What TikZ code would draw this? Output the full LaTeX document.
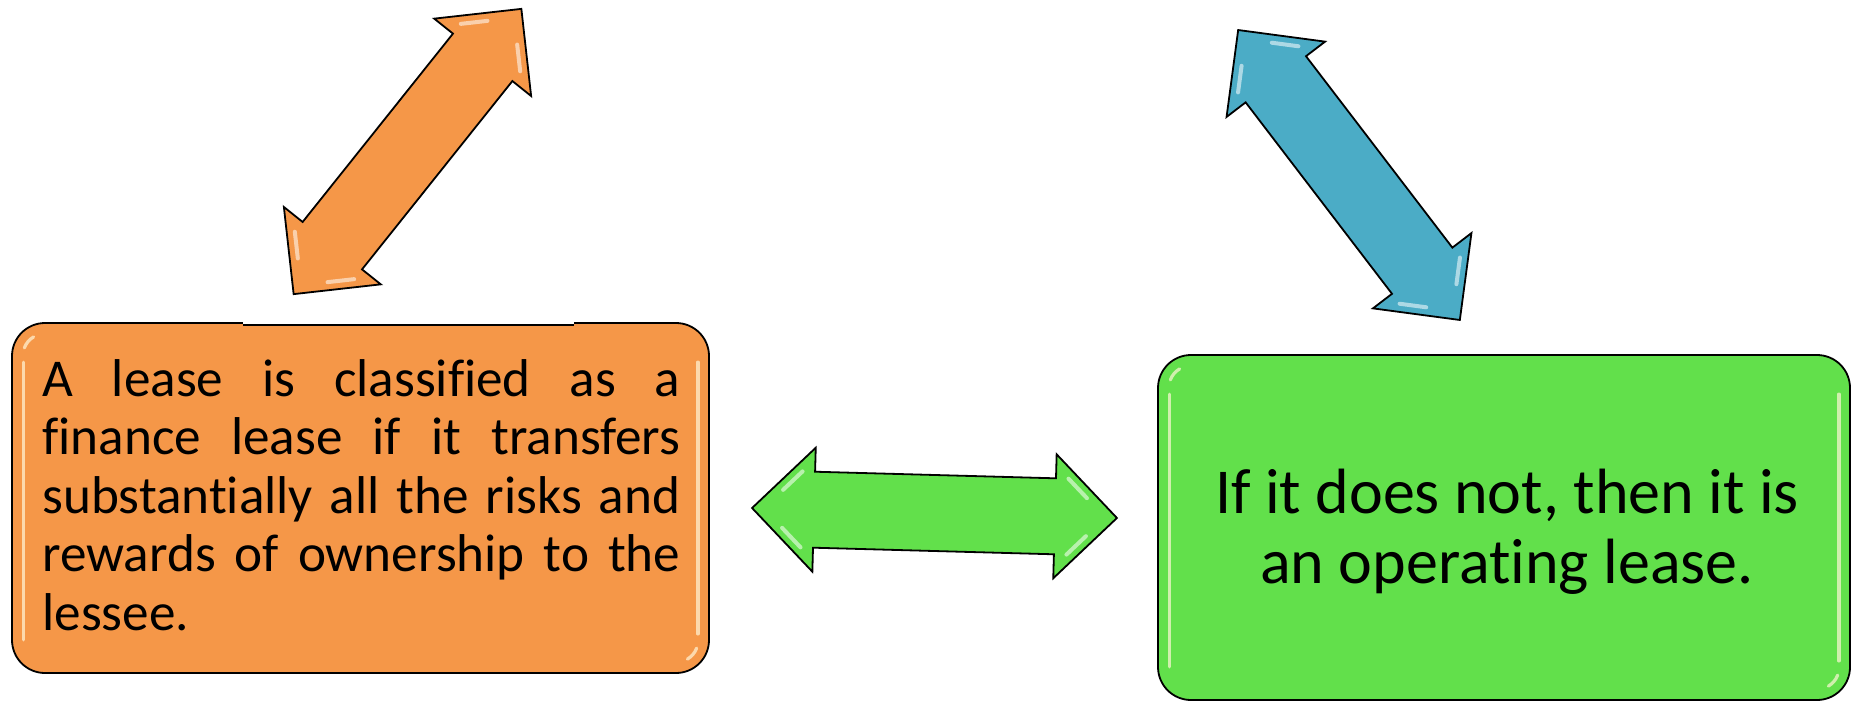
\documentclass[tikz,border=0pt]{standalone}
\usepackage{fontspec}
\setmainfont{Carlito}[Ligatures=CommonOff]
\usetikzlibrary{calc}
\definecolor{leaseorange}{HTML}{F59748}
\definecolor{leasegreen}{HTML}{62E04B}
\definecolor{leaseblue}{HTML}{4BACC6}
\definecolor{sheen}{HTML}{FFF6D8}
% one fully justified line of the left panel
\newcommand{\fullline}[1]{\leavevmode\makebox[319pt]{#1}}
\tikzset{
  panel/.style={draw=black, line width=0.9pt, rounded corners=16.5pt, inner sep=0pt},
  gloss/.style={line width=2pt, line cap=round, draw=white, opacity=0.55},
  panelgloss/.style={line width=1.6pt, line cap=round, draw=sheen, opacity=0.7},
  % double-headed block arrow, 365 units tip to tip, drawn along the local x axis
  dblarr/.pic={
    \draw[line width=0.9pt, fill=#1]
      (-182.5,0) -- (-120.5,62) -- (-120.5,38) -- (120.5,38) -- (120.5,62)
      -- (182.5,0) -- (120.5,-62) -- (120.5,-38) -- (-120.5,-38) -- (-120.5,-62) -- cycle;
    \foreach \sx in {1,-1}{
      \foreach \sy in {1,-1}{
        \draw[gloss] (\sx*152,\sy*19) -- (\sx*133,\sy*38);
      }
    }
  }
}
\begin{document}
\begin{tikzpicture}[x=0.5pt, y=-0.5pt]
\useasboundingbox (0,0) rectangle (1852,702);

% ---- the two panels ----
\node[panel, fill=leaseorange, minimum width=348.5pt, minimum height=175pt] (fin) at (360.5,498) {};
\node[panel, fill=leasegreen, minimum width=346pt, minimum height=172.5pt] (op) at (1504,527.5) {};

% glossy edge highlights of the panels
\foreach \p in {fin,op}{
  \draw[panelgloss] ($(\p.north west)+(12,40)$) -- ($(\p.south west)+(12,-34)$);
  \draw[panelgloss] ($(\p.north east)+(-12,40)$) -- ($(\p.south east)+(-12,-40)$);
  \draw[panelgloss] ($(\p.north west)+(33,33)+(200:21)$) arc[start angle=200, end angle=240, radius=21];
  \draw[panelgloss] ($(\p.south east)+(-33,-33)+(20:21)$) arc[start angle=20, end angle=60, radius=21];
}

% small step in the upper edge of the left panel
\fill[white] (243,320.2) rectangle (574,324);
\draw[line width=0.9pt] (243,324.6) -- (574,324.6);

% ---- panel texts ----
\node[anchor=base west, inner sep=0pt, text width=319pt, align=left,
      font=\fontsize{26.6}{29.25}\selectfont] (fintext) at (42,396)
  {\fullline{A\hfill lease\hfill is\hfill classified\hfill as\hfill a}\\
   \fullline{finance\hfill lease\hfill if\hfill it\hfill transfers}\\
   \fullline{substantially\hfill all\hfill the\hfill risks\hfill and}\\
   \fullline{rewards\hfill of\hfill ownership\hfill to\hfill the}\\
   lessee.};
\node[anchor=base, inner sep=0pt, align=center,
      font=\fontsize{32}{35}\selectfont] (optext) at (1507,583)
  {If it does not, then it is\\ an operating lease.};

% ---- block arrows ----
\coordinate (arrUp) at (407.5,151.5);
\coordinate (arrDown) at (1349,175);
\coordinate (arrMid) at (934.5,513);
\pic[rotate=51.4] at (arrUp) {dblarr=leaseorange};
\pic[rotate=-52.6] at (arrDown) {dblarr=leaseblue};
\pic[rotate=-1.57] at (arrMid) {dblarr=leasegreen};
\end{tikzpicture}
\end{document}
